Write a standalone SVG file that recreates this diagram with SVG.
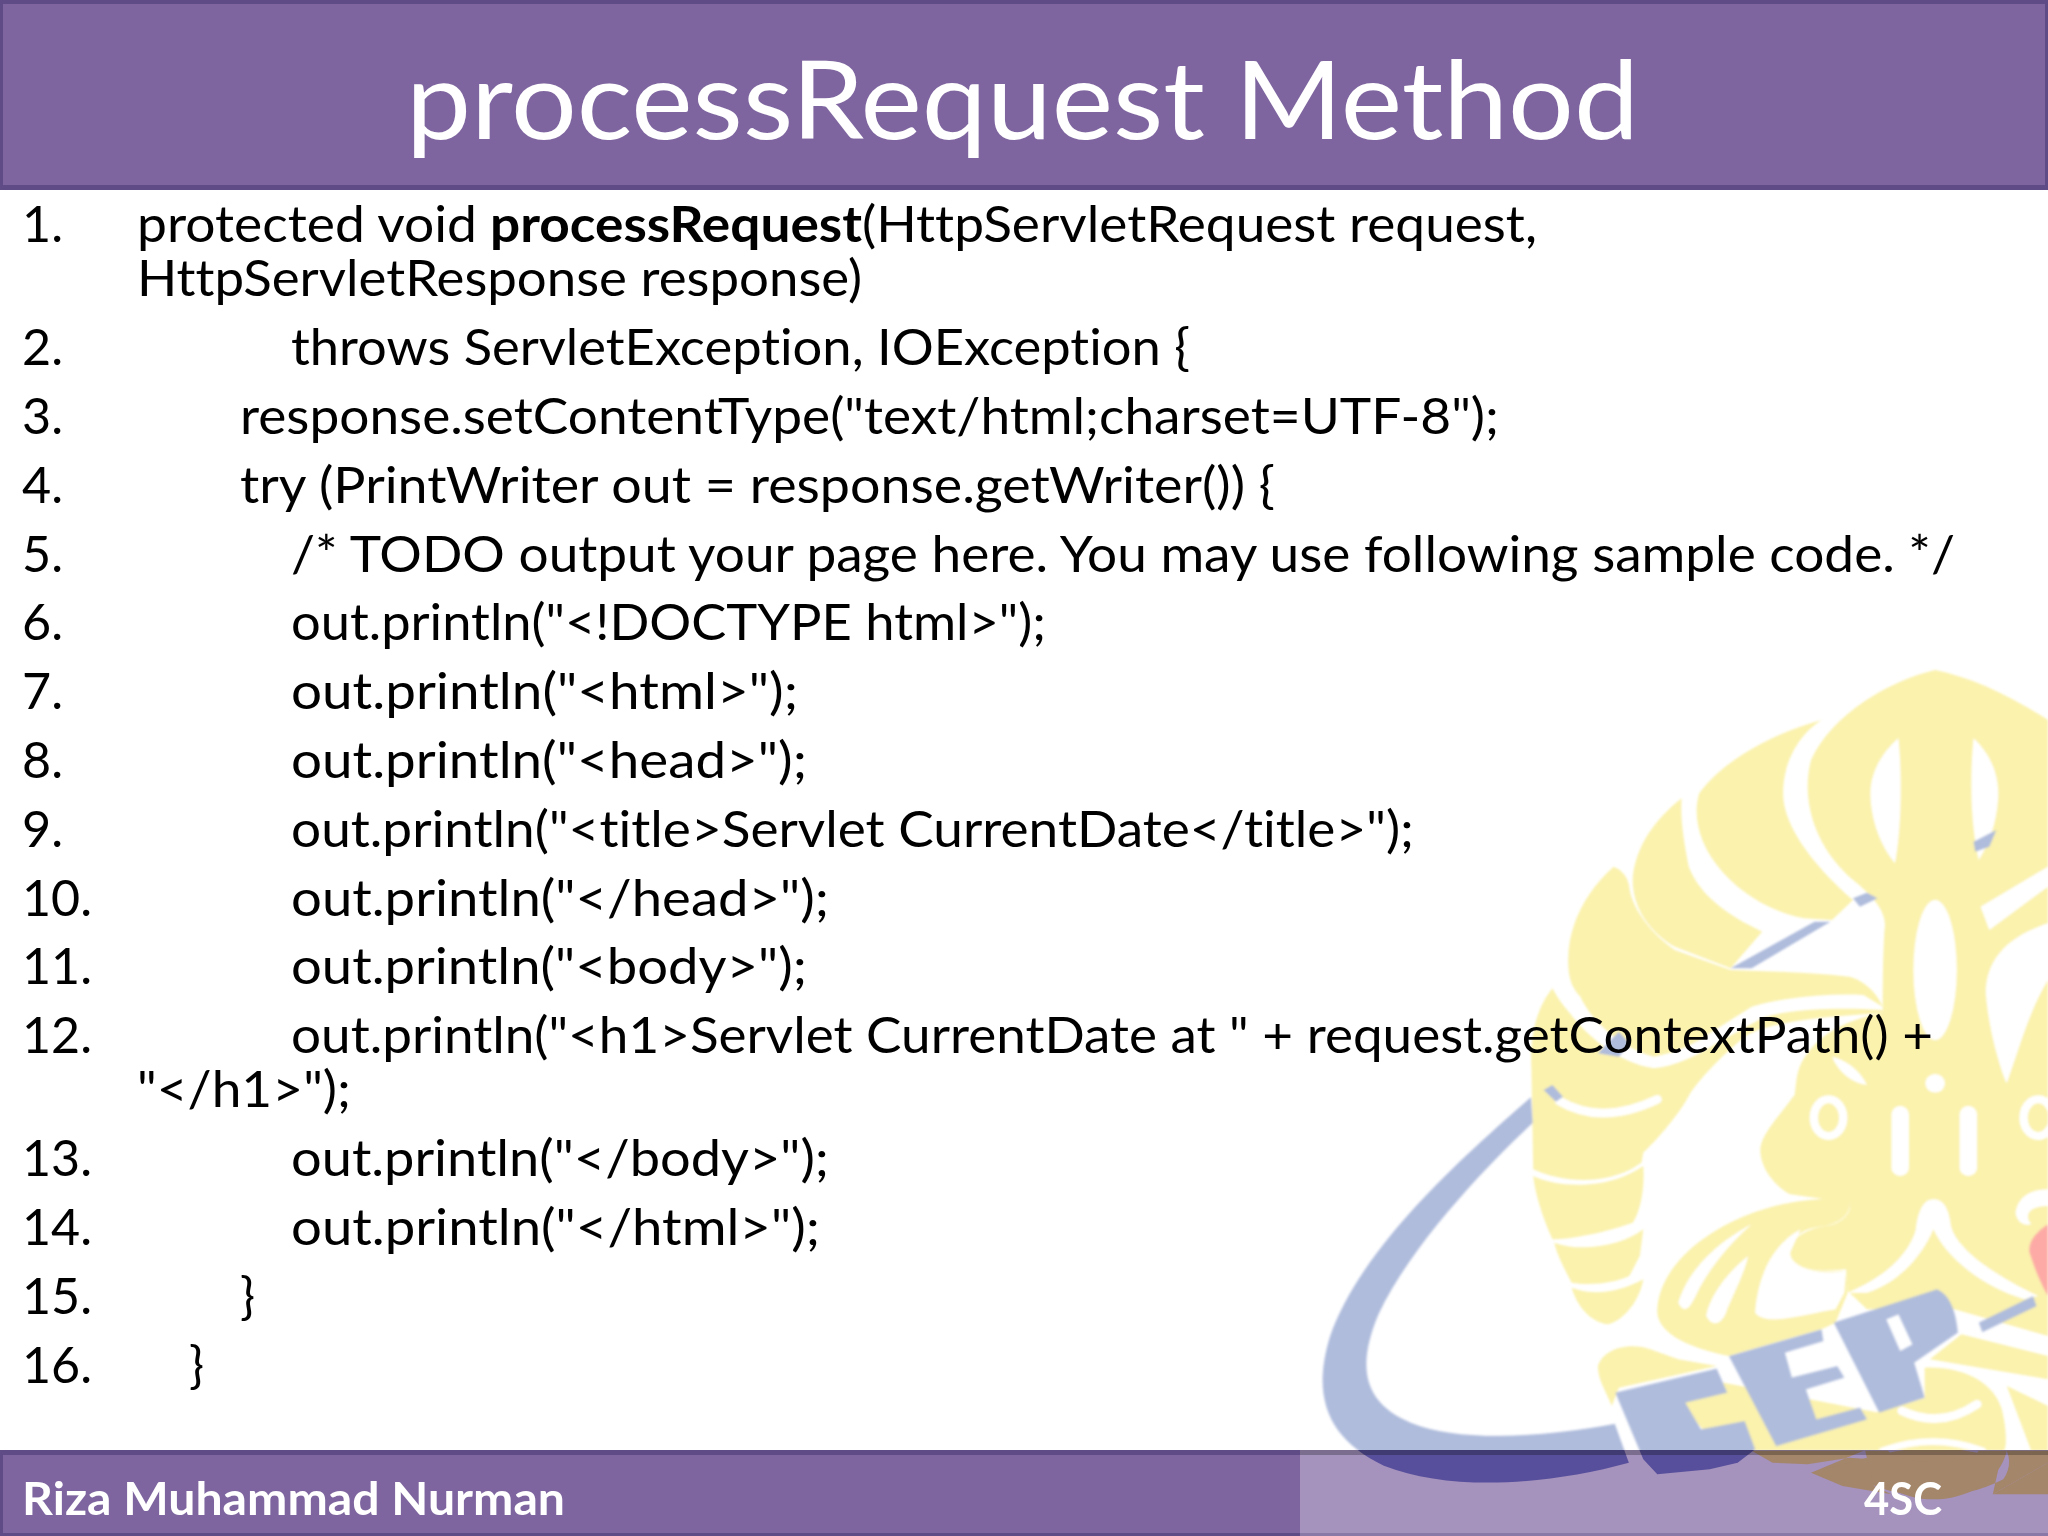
<svg xmlns="http://www.w3.org/2000/svg" width="2048" height="1536" viewBox="0 0 2048 1536">
<style>
text{font-family:"Lato","Noto Sans",sans-serif;font-variant-ligatures:none}
.c{font-size:50px;fill:#000}
.b{font-weight:700}
.f{font-size:46px;font-weight:700;fill:#fff}
.y{fill:#fbf2ae}
.w{fill:#fff}
.ws{fill:none;stroke:#fff;stroke-width:26;stroke-linecap:round}
.bl{fill:#afbcdc}
</style>
<defs>
<filter id="soft" x="-5%" y="-5%" width="110%" height="110%"><feGaussianBlur stdDeviation="1"/></filter>
<clipPath id="foot"><rect x="1300" y="1450" width="748" height="86"/></clipPath>
<g id="swoosh">
<path d="M612 800C480 910 300 1060 240 1220C205 1330 240 1400 340 1445C460 1490 640 1480 793 1440L767 1372C640 1395 480 1405 390 1370C300 1335 290 1270 330 1180C390 1060 520 930 615 845Z"/>
</g>
<g id="cep">
<path d="M330 890L620 818L650 890L530 920L575 1000L700 975L730 1060L680 1100L600 1120L450 1135L410 1090Z"/>
<path d="M655 780L920 700L925 735L815 770L835 845L965 810L985 845L875 880L905 970L1030 935L1050 970L790 1050Z"/>
<path fill-rule="evenodd" d="M955 680L1250 580Q1300 600 1310 710L1185 800L1215 905L1085 950ZM1105 670L1140 655L1180 745L1145 765Z"/>
</g>
</defs>

<rect width="2048" height="1536" fill="#fff"/>

<g id="logo" filter="url(#soft)">
<g transform="translate(1500 660) scale(.3495 .3333)">
<path class="y" d="M1245 30C1120 60 950 160 890 300C860 420 900 560 1010 660C1070 710 1110 760 1100 810C1095 900 1095 980 1095 1060C1000 1075 920 1120 880 1180C840 1230 850 1290 840 1320H1568V180C1450 100 1340 50 1245 30Z"/>
<path class="y" d="M920 180C780 220 640 300 570 400C550 470 570 560 640 640C700 710 790 760 870 775L950 780L1010 720C900 620 810 500 810 400C810 300 860 220 920 180Z"/>
<path class="y" d="M520 415C440 480 390 560 380 650C375 740 430 820 500 860L660 925L750 815C640 760 570 700 540 620C525 540 515 470 520 415Z"/>
<path class="y" d="M325 620C250 690 195 790 195 900C195 940 200 980 230 1010C260 1080 340 1160 440 1190C500 1180 560 1150 600 1120L720 1040C820 1010 940 1000 1040 1005L1095 1040C1080 1000 1040 960 1000 950C880 935 760 935 660 930L500 870C430 820 375 740 370 680C365 650 350 630 325 620Z"/>
<path class="y" d="M150 985C100 1050 85 1140 90 1230L95 1528C200 1578 330 1568 405 1508L410 1478C470 1418 520 1348 540 1308C560 1270 620 1200 700 1130C760 1090 900 1070 1095 1060L1095 1050C940 1040 800 1050 740 1080L620 1150C560 1190 500 1220 440 1225C340 1210 250 1130 200 1060C175 1030 160 1005 150 985Z"/>
<path class="w" d="M1140 235C1090 280 1060 340 1060 400C1060 480 1090 560 1130 610C1150 500 1150 340 1140 235Z"/>
<path class="w" d="M1355 235C1400 280 1430 340 1425 420C1420 490 1400 550 1370 600C1345 490 1345 340 1355 235Z"/>
<ellipse class="w" cx="1245" cy="930" rx="62" ry="210"/>
<path class="w" d="M1375 740L1568 620V680L1400 810Z"/>
<path class="w" d="M1568 790C1450 830 1390 900 1390 1000C1400 1130 1440 1250 1450 1270C1490 1150 1520 1040 1568 960Z"/>
<circle class="w" cx="1245" cy="1270" r="28"/>
<path class="w" d="M950 1190C990 1200 1030 1230 1050 1275C1010 1270 970 1240 950 1190Z"/>
</g>
<g transform="translate(1500 1096) scale(.3495 .3333)">
<path class="y" d="M840 0C800 60 740 120 745 170C750 230 800 280 830 295L1000 320C1010 360 960 390 930 390C870 400 830 430 830 470C840 520 900 530 990 520L995 585L1050 640H1300L1568 720V0Z"/>
<path class="ws" d="M170 15Q290 90 450 10"/>
<ellipse cx="940" cy="65" rx="42" ry="55" fill="none" stroke="#fff" stroke-width="24"/>
<ellipse cx="1540" cy="65" rx="42" ry="55" fill="none" stroke="#fff" stroke-width="24"/>
<rect class="w" x="1120" y="30" width="50" height="210" rx="25"/>
<rect class="w" x="1315" y="30" width="50" height="210" rx="25"/>
<path class="w" d="M1240 310C1210 310 1195 350 1190 400C1170 480 1090 550 995 590L1050 590C1120 570 1200 500 1240 400C1280 490 1380 570 1500 610L1540 600C1440 550 1310 470 1290 390C1285 340 1270 310 1240 310Z"/>
<path class="w" d="M1568 280C1510 280 1480 310 1475 350C1480 380 1500 390 1520 385C1500 360 1510 330 1568 330Z"/>
<path class="y" d="M95 240C150 270 300 290 410 210C415 280 400 350 380 380C300 410 200 430 150 430C120 360 100 290 95 240Z"/>
<path class="y" d="M155 440C230 470 350 450 410 400L400 480L370 540C330 560 260 570 205 560C180 510 165 480 155 440Z"/>
<path class="y" d="M205 575C270 600 340 590 410 550C400 610 360 670 310 685C260 680 220 630 205 575Z"/>
<path class="y" d="M1000 310C850 300 700 340 580 430C500 490 450 570 450 650C455 720 560 760 655 780L920 700L960 680L995 590L990 525C900 530 840 520 830 470C830 420 870 395 930 390C960 385 1010 360 1000 310Z"/>
<path class="w" d="M860 400C790 440 740 520 730 650C760 690 850 660 960 640L985 590L990 525C900 540 830 510 830 470Z"/>
<path class="w" d="M720 385C620 440 540 520 510 620C530 660 545 630 560 600C590 530 650 450 720 385Z"/>
<path class="w" d="M710 480C650 530 600 600 590 660C610 700 640 680 650 640C670 590 700 530 710 480Z"/>
<path class="y" d="M280 810C300 750 380 740 430 760L510 790L620 810L340 875L320 930C300 880 280 850 280 810Z"/>
<path class="y" d="M470 880L640 860L1085 950L1040 1064H640Z"/>
<path class="y" d="M1320 715L1568 780V850L1230 790Z"/>
<path class="y" d="M1215 815C1350 810 1430 880 1440 960C1450 1010 1450 1064 1440 1064H1040C1030 1010 1060 960 1085 945L1215 905Z"/>
<path class="y" d="M1450 870L1568 930V1064H1520Z"/>
<path class="ws" d="M1150 945Q1260 1000 1365 925"/>
<path class="ws" d="M1095 1064Q1240 1010 1380 1064" style="stroke-width:20"/>
</g>
<g class="bl">
<g transform="translate(1200 640) scale(.5408 .5714)"><use href="#swoosh"/></g>
<g transform="translate(1500 660) scale(.3495 .3333)">
<path d="M1355 545L1420 510L1400 560L1360 575Z"/>
<path d="M1010 715L1050 698L1080 715L1030 740Z"/>
<path d="M660 925L900 785L945 785L720 925Z"/>
<path d="M280 1180L340 1115L370 1150L340 1190Z"/>
<path d="M125 1290L150 1275L180 1310L160 1325Z"/>
</g>
<g transform="translate(1500 1096) scale(.3495 .3333)">
<use href="#cep"/>
<path d="M1370 680L1525 600L1535 630L1380 708Z"/>
</g>
</g>
<g transform="translate(1500 1096) scale(.3495 .3333)"><path fill="#fdaaa6" d="M1568 385C1530 410 1510 440 1515 470C1530 520 1550 570 1568 600Z"/></g>
</g>

<g id="header">
<rect x="0" y="0" width="2048" height="190" fill="#5f4c87"/>
<rect x="3" y="4" width="2042" height="181" fill="#7e659f"/>
<text id="title" x="406" y="139" font-size="108" fill="#fff" textLength="1233" lengthAdjust="spacingAndGlyphs">processRequest Method</text>
</g>

<g id="code">
<text class="c" x="22" y="242" textLength="41" lengthAdjust="spacingAndGlyphs">1.</text>
<text class="c" x="137" y="242" textLength="340" lengthAdjust="spacingAndGlyphs">protected void</text>
<text class="c b" x="490" y="242" textLength="372" lengthAdjust="spacingAndGlyphs">processRequest</text>
<text class="c" x="862" y="242" textLength="675" lengthAdjust="spacingAndGlyphs">(HttpServletRequest request,</text>
<text class="c" x="137" y="296" textLength="725" lengthAdjust="spacingAndGlyphs">HttpServletResponse response)</text>
<text class="c" x="22" y="365" textLength="41" lengthAdjust="spacingAndGlyphs">2.</text>
<text class="c" x="291" y="365" textLength="899" lengthAdjust="spacingAndGlyphs">throws ServletException, IOException {</text>
<text class="c" x="22" y="434" textLength="41" lengthAdjust="spacingAndGlyphs">3.</text>
<text class="c" x="240" y="434" textLength="1259" lengthAdjust="spacingAndGlyphs">response.setContentType("text/html;charset=UTF-8");</text>
<text class="c" x="22" y="503" textLength="41" lengthAdjust="spacingAndGlyphs">4.</text>
<text class="c" x="240" y="503" textLength="1035" lengthAdjust="spacingAndGlyphs">try (PrintWriter out = response.getWriter()) {</text>
<text class="c" x="22" y="572" textLength="41" lengthAdjust="spacingAndGlyphs">5.</text>
<text class="c" x="291" y="572" textLength="1664" lengthAdjust="spacingAndGlyphs">/* TODO output your page here. You may use following sample code. */</text>
<text class="c" x="22" y="640" textLength="41" lengthAdjust="spacingAndGlyphs">6.</text>
<text class="c" x="291" y="640" textLength="755" lengthAdjust="spacingAndGlyphs">out.println("&lt;!DOCTYPE html&gt;");</text>
<text class="c" x="22" y="709" textLength="41" lengthAdjust="spacingAndGlyphs">7.</text>
<text class="c" x="291" y="709" textLength="507" lengthAdjust="spacingAndGlyphs">out.println("&lt;html&gt;");</text>
<text class="c" x="22" y="778" textLength="41" lengthAdjust="spacingAndGlyphs">8.</text>
<text class="c" x="291" y="778" textLength="516" lengthAdjust="spacingAndGlyphs">out.println("&lt;head&gt;");</text>
<text class="c" x="22" y="847" textLength="41" lengthAdjust="spacingAndGlyphs">9.</text>
<text class="c" x="291" y="847" textLength="1123" lengthAdjust="spacingAndGlyphs">out.println("&lt;title&gt;Servlet CurrentDate&lt;/title&gt;");</text>
<text class="c" x="22" y="916" textLength="70" lengthAdjust="spacingAndGlyphs">10.</text>
<text class="c" x="291" y="916" textLength="538" lengthAdjust="spacingAndGlyphs">out.println("&lt;/head&gt;");</text>
<text class="c" x="22" y="984" textLength="70" lengthAdjust="spacingAndGlyphs">11.</text>
<text class="c" x="291" y="984" textLength="516" lengthAdjust="spacingAndGlyphs">out.println("&lt;body&gt;");</text>
<text class="c" x="22" y="1053" textLength="70" lengthAdjust="spacingAndGlyphs">12.</text>
<text class="c" x="291" y="1053" textLength="1642" lengthAdjust="spacingAndGlyphs">out.println("&lt;h1&gt;Servlet CurrentDate at " + request.getContextPath() +</text>
<text class="c" x="137" y="1107" textLength="214" lengthAdjust="spacingAndGlyphs">"&lt;/h1&gt;");</text>
<text class="c" x="22" y="1176" textLength="70" lengthAdjust="spacingAndGlyphs">13.</text>
<text class="c" x="291" y="1176" textLength="538" lengthAdjust="spacingAndGlyphs">out.println("&lt;/body&gt;");</text>
<text class="c" x="22" y="1245" textLength="70" lengthAdjust="spacingAndGlyphs">14.</text>
<text class="c" x="291" y="1245" textLength="529" lengthAdjust="spacingAndGlyphs">out.println("&lt;/html&gt;");</text>
<text class="c" x="22" y="1314" textLength="70" lengthAdjust="spacingAndGlyphs">15.</text>
<text class="c" x="240" y="1314">}</text>
<text class="c" x="22" y="1383" textLength="70" lengthAdjust="spacingAndGlyphs">16.</text>
<text class="c" x="189" y="1383">}</text>
</g>

<g id="footer">
<rect x="0" y="1450" width="1300" height="86" fill="#5f4c87"/>
<rect x="3" y="1455" width="1297" height="78" fill="#7e659f"/>
<rect x="1300" y="1450" width="748" height="86" fill="#a592bd"/>
<rect x="1300" y="1533" width="748" height="3" fill="#8a78a6"/>
<g clip-path="url(#foot)">
<g transform="translate(1500 1096) scale(.3495 .3333)" fill="#a4866b">
<path d="M720 1064H1040L890 1130L1040 1150C1100 1200 1300 1230 1440 1150C1460 1120 1460 1090 1450 1064H1568V1100L1410 1195L1430 1100C1380 1050 1150 1040 1060 1090L1000 1085L880 1105L780 1100Z"/>
<path d="M1045 1064C1060 1160 1150 1210 1240 1210C1330 1210 1430 1160 1450 1064H1370C1340 1110 1150 1110 1110 1064Z"/>
<path d="M890 1130L1050 1085L1070 1170L1120 1195L980 1170Z"/>
<path d="M1410 1195L1568 1100V1195Z"/>
</g>
<g fill="#574f9b">
<g transform="translate(1200 640) scale(.5408 .5714)"><use href="#swoosh"/></g>
<g transform="translate(1500 1096) scale(.3495 .3333)"><use href="#cep"/></g>
</g>
<rect x="1300" y="1450" width="748" height="5" fill="#000" fill-opacity=".25"/>
</g>
<text class="f" x="22" y="1515" textLength="543" lengthAdjust="spacingAndGlyphs">Riza Muhammad Nurman</text>
<text class="f" x="1864" y="1515" textLength="78" lengthAdjust="spacingAndGlyphs">4SC</text>
</g>
</svg>
